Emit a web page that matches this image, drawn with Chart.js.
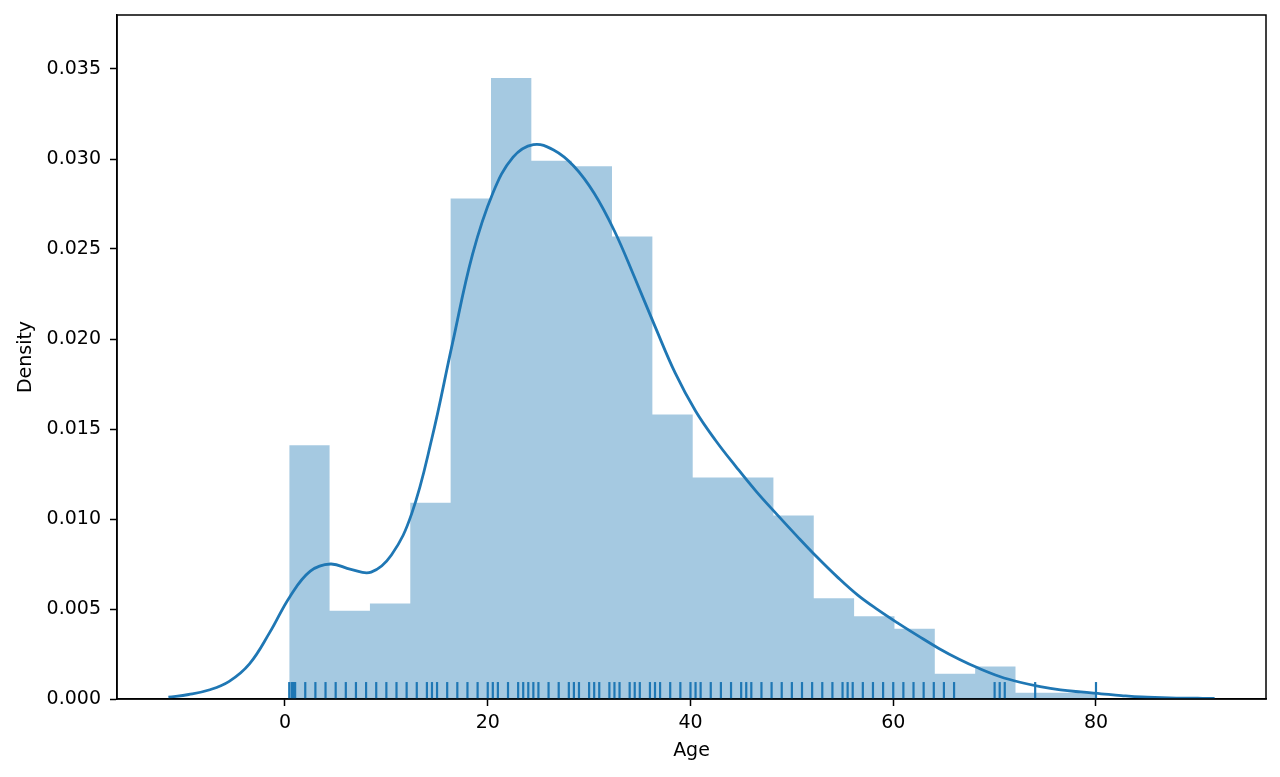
<!DOCTYPE html>
<html>
<head>
<meta charset="utf-8">
<script src="https://cdn.jsdelivr.net/npm/chart.js@4.4.0/dist/chart.umd.min.js"></script>
<style>
  html, body { margin: 0; padding: 0; background: #fff; }
  canvas { display: block; }
</style>
</head>
<body>
<canvas id="distChart" width="1280" height="777"></canvas>
<script>
// histogram: bin edges (Age) and density of each bin
const binEdges = [0.42, 4.40, 8.38, 12.36, 16.34, 20.32, 24.30, 28.28, 32.26, 36.24, 40.22,
                  44.20, 48.18, 52.16, 56.14, 60.12, 64.10, 68.08, 72.06, 76.04, 80.0];
const binDensity = [0.0141, 0.0049, 0.0053, 0.0109, 0.0278, 0.0345, 0.0299, 0.0296, 0.0257, 0.0158,
                    0.0123, 0.0123, 0.0102, 0.0056, 0.0046, 0.0039, 0.0014, 0.0018, 0.00035, 0.00035];

// kde curve, every 2 years of age
const kdeAge = [-11.5, -9.5, -7.5, -5.5, -3.5, -1.5, 0.5, 2.5, 4.5, 6.5, 8.5, 10.5, 12.5, 14.5,
                16.5, 18.5, 20.5, 22.5, 24.5, 26.5, 28.5, 30.5, 32.5, 34.5, 36.5, 38.5, 40.5,
                42.5, 44.5, 46.5, 48.5, 50.5, 52.5, 54.5, 56.5, 58.5, 60.5, 62.5, 64.5, 66.5,
                68.5, 70.5, 72.5, 74.5, 76.5, 78.5, 80.5, 82.5, 84.5, 86.5, 88.5, 90.5, 91.7];
const kdeDensity = [0.0001, 0.00025, 0.0005, 0.00098, 0.00195, 0.0037, 0.0057, 0.0071, 0.0075,
                    0.0072, 0.00705, 0.0080, 0.0103, 0.0145, 0.0197, 0.0247, 0.0281, 0.0301,
                    0.0308, 0.0305, 0.0296, 0.0281, 0.0260, 0.0234, 0.0207, 0.0181, 0.0160,
                    0.01435, 0.0129, 0.01152, 0.01027, 0.00905, 0.00787, 0.00677, 0.00577, 0.00495,
                    0.0042, 0.00349, 0.00281, 0.00221, 0.00169, 0.00125, 0.00093, 0.00069, 0.00051,
                    0.00039, 0.00029, 0.00019, 0.00011, 0.00008, 0.00005, 0.00004, 0.00004];

// rug marks (one per distinct age)
const rugAge = [0.42, 0.67, 0.75, 0.83, 0.92, 1, 2, 3, 4, 5, 6, 7, 8, 9, 10, 11, 12, 13, 14, 14.5,
                15, 16, 17, 18, 19, 20, 20.5, 21, 22, 23, 23.5, 24, 24.5, 25, 26, 27, 28, 28.5, 29,
                30, 30.5, 31, 32, 32.5, 33, 34, 34.5, 35, 36, 36.5, 37, 38, 39, 40, 40.5, 41, 42,
                43, 44, 45, 45.5, 46, 47, 48, 49, 50, 51, 52, 53, 54, 55, 55.5, 56, 57, 58, 59,
                60, 61, 62, 63, 64, 65, 66, 70, 70.5, 71, 74, 80];

const xTicks = [0, 20, 40, 60, 80];
const yTicks = [0, 0.005, 0.010, 0.015, 0.020, 0.025, 0.030, 0.035];

const blue = '#1f77b4';
const font = { family: 'DejaVu Sans', size: 19 };
const rugMid = 0.00047; // middle of the rug marks

// stepped outline of the histogram
const histPoints = binEdges.map((x, i) => ({ x: x, y: binDensity[Math.min(i, binDensity.length - 1)] }));

// black box around the plot
const frame = {
  id: 'frame',
  afterDraw(chart) {
    const { ctx, chartArea: a } = chart;
    ctx.save();
    ctx.strokeStyle = '#000';
    ctx.lineWidth = 1.5;
    ctx.strokeRect(a.left, a.top, a.right - a.left, a.bottom - a.top);
    ctx.restore();
  }
};

const tickGrid = {
  display: true,
  drawOnChartArea: false,
  drawTicks: true,
  tickLength: 7,
  tickWidth: 1.5,
  tickColor: '#000'
};

new Chart(document.getElementById('distChart'), {
  type: 'line',
  data: {
    datasets: [
      {
        label: 'rug',
        order: 0,
        data: rugAge.map(a => ({ x: a, y: rugMid })),
        showLine: false,
        pointStyle: 'line',
        pointRotation: 90,
        pointRadius: 8.5,
        pointBorderWidth: 2.2,
        pointBorderColor: blue,
        pointBackgroundColor: blue
      },
      {
        label: 'kde',
        order: 1,
        data: kdeAge.map((a, i) => ({ x: a, y: kdeDensity[i] })),
        borderColor: blue,
        borderWidth: 2.8,
        pointRadius: 0,
        tension: 0.4,
        fill: false
      },
      {
        label: 'hist',
        order: 2,
        data: histPoints,
        stepped: 'before',
        borderWidth: 0,
        borderColor: 'rgba(0,0,0,0)',
        backgroundColor: 'rgba(31,119,180,0.4)',
        pointRadius: 0,
        fill: 'origin'
      }
    ]
  },
  plugins: [frame],
  options: {
    responsive: false,
    animation: false,
    layout: { padding: { left: 0, top: 15, right: 14, bottom: 0 } },
    plugins: {
      legend: { display: false },
      tooltip: { enabled: false }
    },
    scales: {
      x: {
        type: 'linear',
        min: -16.57,
        max: 96.77,
        afterBuildTicks: s => { s.ticks = xTicks.map(v => ({ value: v })); },
        afterFit: s => { s.height = 78; s.paddingLeft = 0; s.paddingRight = 0; },
        grid: tickGrid,
        border: { display: true, color: '#000', width: 1.5 },
        ticks: {
          color: '#000',
          font: font,
          padding: 6,
          maxRotation: 0,
          autoSkip: false,
          callback: v => String(v)
        },
        title: {
          display: true,
          text: 'Age',
          color: '#000',
          font: font,
          padding: { top: 0, bottom: 14.6 }
        }
      },
      y: {
        type: 'linear',
        min: 0,
        max: 0.038,
        afterBuildTicks: s => { s.ticks = yTicks.map(v => ({ value: v })); },
        afterFit: s => { s.width = 117; s.paddingTop = 0; s.paddingBottom = 0; },
        grid: tickGrid,
        border: { display: true, color: '#000', width: 1.5 },
        ticks: {
          color: '#000',
          font: font,
          padding: 9,
          autoSkip: false,
          callback: v => v.toFixed(3)
        },
        title: {
          display: true,
          text: 'Density',
          color: '#000',
          font: font,
          padding: { top: 14.6, bottom: 0 }
        }
      }
    }
  }
});
</script>
</body>
</html>
